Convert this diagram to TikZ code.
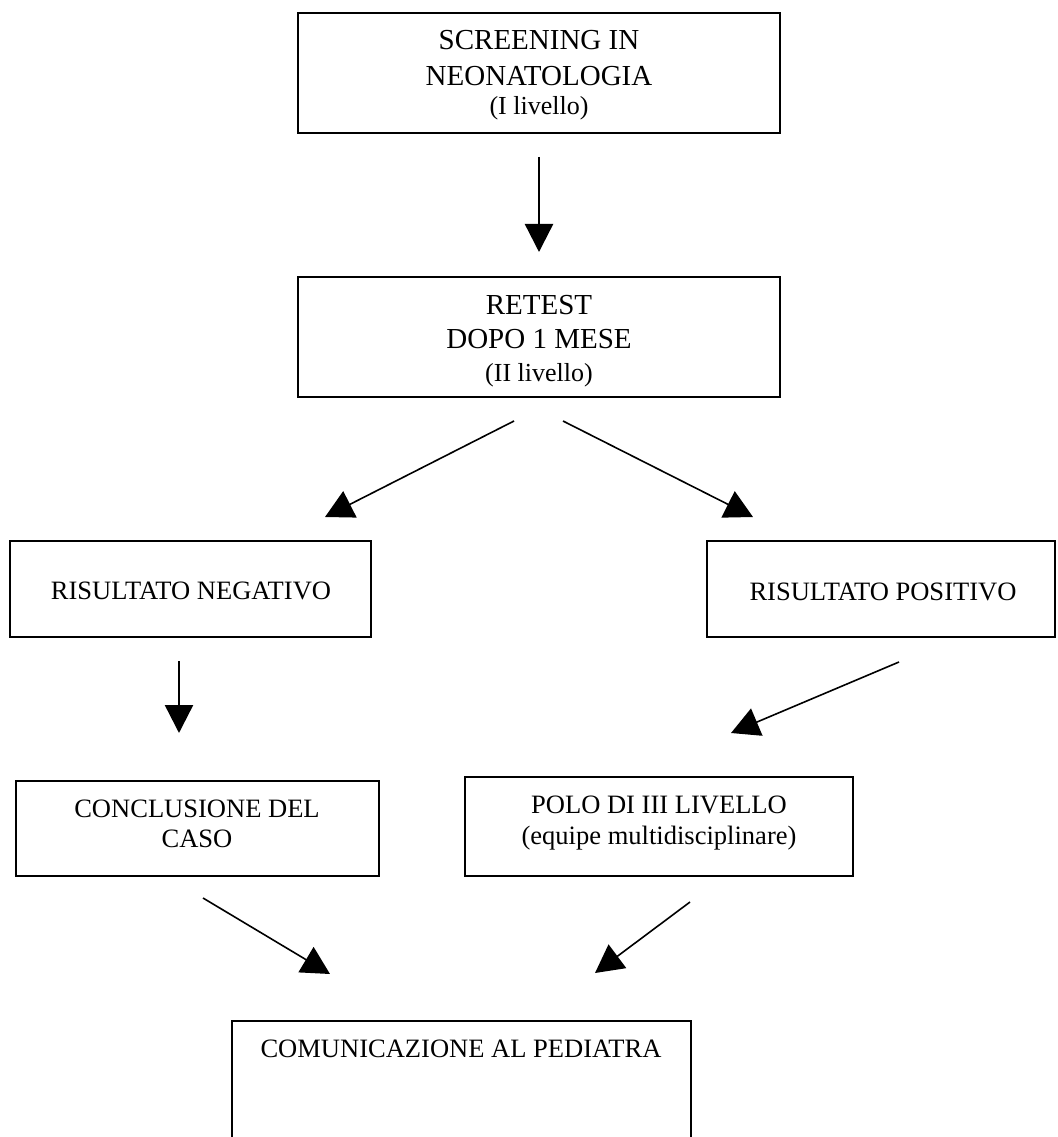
\documentclass[tikz,border=0pt]{standalone}
\usepackage{fontspec}
\setmainfont{Liberation Serif}
\usetikzlibrary{arrows.meta}
\begin{document}
\begin{tikzpicture}[x=0.75pt,y=-0.75pt,
  boxA/.style={draw,line width=2pt,inner sep=0pt,outer sep=0pt,anchor=north west},
  boxB/.style={draw,line width=1.3pt,inner sep=0pt,outer sep=0pt,anchor=north west},
  bigtxt/.style={inner sep=0pt,anchor=base,font=\fontsize{21.75pt}{26pt}\selectfont},
  smalltxt/.style={inner sep=0pt,anchor=base,font=\fontsize{19.9pt}{24pt}\selectfont},
  partxt/.style={inner sep=0pt,anchor=base,font=\fontsize{19.5pt}{24pt}\selectfont},
  vflow/.style={line width=1.8pt,-{Triangle[length=21pt,width=21pt]}},
  dflow/.style={line width=1.2pt,-{Triangle[length=21pt,width=22pt]}}]
\useasboundingbox (0,0) rectangle (1057,1137);
\clip (0,0) rectangle (1057,1137);
% boxes
\node[boxA,minimum width=361.5pt,minimum height=90pt] (b1) at (298,13) {};
\node[boxA,minimum width=361.5pt,minimum height=90pt] (b2) at (298,277) {};
\node[boxB,minimum width=270.75pt,minimum height=72pt] (b3) at (10,541) {};
\node[boxB,minimum width=261pt,minimum height=72pt] (b4) at (707,541) {};
\node[boxB,minimum width=272.25pt,minimum height=71.25pt] (b5) at (16,781) {};
\node[boxB,minimum width=291pt,minimum height=74.25pt] (b6) at (465,777) {};
\node[boxB,minimum width=344.25pt,minimum height=120pt] (b7) at (232,1021) {};
% texts
\node[bigtxt] (t1a) at (539,50) {SCREENING IN};
\node[bigtxt] (t1b) at (539,86) {NEONATOLOGIA};
\node[partxt] (t1c) at (539,115) {(I livello)};
\node[bigtxt] (t2a) at (539,315) {RETEST};
\node[bigtxt] (t2b) at (539,348) {DOPO 1 MESE};
\node[partxt] (t2c) at (539,381) {(II livello)};
\node[smalltxt] (t3) at (191,599) {RISULTATO NEGATIVO};
\node[smalltxt] (t4) at (883,600) {RISULTATO POSITIVO};
\node[smalltxt] (t5a) at (197,817) {CONCLUSIONE DEL};
\node[smalltxt] (t5b) at (197,847) {CASO};
\node[smalltxt] (t6a) at (659,813) {POLO DI III LIVELLO};
\node[smalltxt] (t6b) at (659,844) {(equipe multidisciplinare)};
\node[smalltxt] (t7) at (461,1057) {COMUNICAZIONE AL PEDIATRA};
% connector end points
\coordinate (a1s) at (539,157); \coordinate (a1e) at (539,252);
\coordinate (a2s) at (514,421); \coordinate (a2e) at (325,517);
\coordinate (a3s) at (563,421); \coordinate (a3e) at (753,517);
\coordinate (a4s) at (179,661); \coordinate (a4e) at (179,733);
\coordinate (a5s) at (899,662); \coordinate (a5e) at (731,733);
\coordinate (a6s) at (203,898); \coordinate (a6e) at (330,974);
\coordinate (a7s) at (690,902); \coordinate (a7e) at (595,973);
% connectors
\draw[vflow] (a1s) -- (a1e);
\draw[dflow] (a2s) -- (a2e);
\draw[dflow] (a3s) -- (a3e);
\draw[vflow] (a4s) -- (a4e);
\draw[dflow] (a5s) -- (a5e);
\draw[dflow] (a6s) -- (a6e);
\draw[dflow] (a7s) -- (a7e);
\end{tikzpicture}
\end{document}
